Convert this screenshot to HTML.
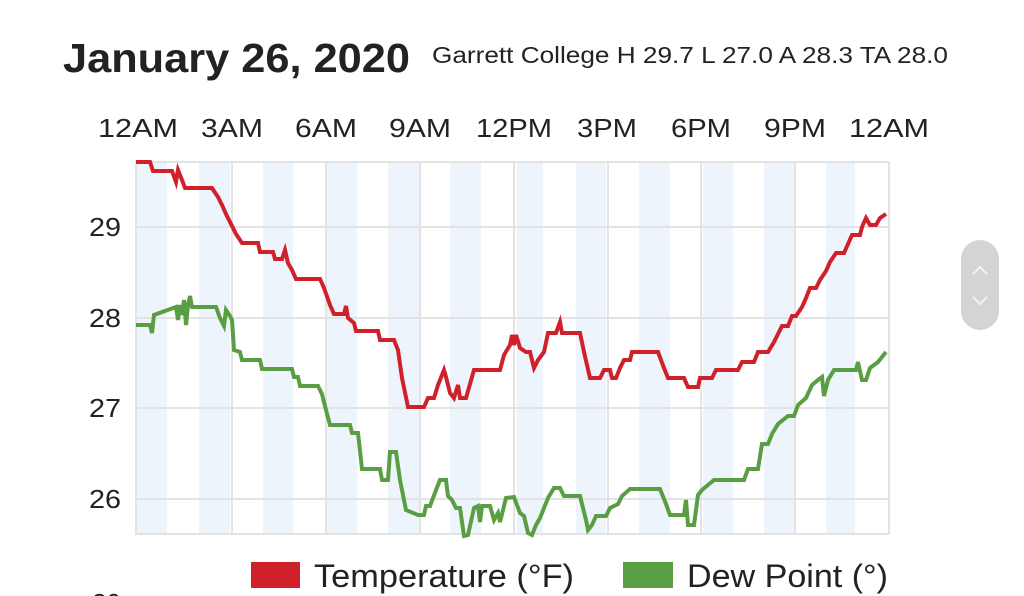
<!DOCTYPE html>
<html><head><meta charset="utf-8"><style>
html,body{margin:0;padding:0;background:#fff;width:1024px;height:596px;overflow:hidden}
svg{display:block}
text{font-family:"Liberation Sans",sans-serif;fill:#222}
</style></head><body>
<svg width="1024" height="596" viewBox="0 0 1024 596">
<text x="63" y="72" font-size="41" font-weight="bold" textLength="347" lengthAdjust="spacingAndGlyphs">January 26, 2020</text>
<text x="432" y="63" font-size="23" textLength="516" lengthAdjust="spacingAndGlyphs">Garrett College H 29.7 L 27.0 A 28.3 TA 28.0</text>
<g font-size="26" text-anchor="middle">
<text x="138" y="137" textLength="80" lengthAdjust="spacingAndGlyphs">12AM</text><text x="232" y="137" textLength="62" lengthAdjust="spacingAndGlyphs">3AM</text><text x="326" y="137" textLength="62" lengthAdjust="spacingAndGlyphs">6AM</text>
<text x="420" y="137" textLength="62" lengthAdjust="spacingAndGlyphs">9AM</text><text x="514" y="137" textLength="76" lengthAdjust="spacingAndGlyphs">12PM</text><text x="607" y="137" textLength="60" lengthAdjust="spacingAndGlyphs">3PM</text>
<text x="701" y="137" textLength="60" lengthAdjust="spacingAndGlyphs">6PM</text><text x="795" y="137" textLength="62" lengthAdjust="spacingAndGlyphs">9PM</text><text x="889" y="137" textLength="80" lengthAdjust="spacingAndGlyphs">12AM</text>
</g>
<g fill="#eef4fb">
<rect x="137" y="162" width="30" height="372"/><rect x="199" y="162" width="31" height="372"/>
<rect x="263" y="162" width="30" height="372"/><rect x="327" y="162" width="30" height="372"/>
<rect x="388" y="162" width="31" height="372"/><rect x="450" y="162" width="31" height="372"/>
<rect x="517" y="162" width="26" height="372"/><rect x="576" y="162" width="30" height="372"/>
<rect x="639" y="162" width="31" height="372"/><rect x="703" y="162" width="30" height="372"/>
<rect x="764" y="162" width="32" height="372"/><rect x="826" y="162" width="29" height="372"/>
</g>
<g stroke="#e3e3e3" stroke-width="2" fill="none">
<rect x="136" y="162" width="753" height="372"/>
<line x1="232" y1="162" x2="232" y2="534"/><line x1="326" y1="162" x2="326" y2="534"/>
<line x1="420" y1="162" x2="420" y2="534"/><line x1="514" y1="162" x2="514" y2="534"/>
<line x1="608" y1="162" x2="608" y2="534"/><line x1="701" y1="162" x2="701" y2="534"/>
<line x1="795" y1="162" x2="795" y2="534"/>
<line x1="136" y1="227" x2="889" y2="227"/><line x1="136" y1="318" x2="889" y2="318"/>
<line x1="136" y1="408" x2="889" y2="408"/><line x1="136" y1="499" x2="889" y2="499"/>
</g>
<g font-size="26" text-anchor="end">
<text x="121" y="236" textLength="32" lengthAdjust="spacingAndGlyphs">29</text><text x="121" y="327" textLength="32" lengthAdjust="spacingAndGlyphs">28</text><text x="121" y="417" textLength="32" lengthAdjust="spacingAndGlyphs">27</text><text x="121" y="508" textLength="32" lengthAdjust="spacingAndGlyphs">26</text>
</g>
<polyline fill="none" stroke="#d0212b" stroke-width="4" points="136,162 150,162 153,171 172,171 176,182 178,170 182,180 185,188 212,188 218,197 222,205 226,214 232,226 236,234 242,243 258,243 260,252 273,252 275,259 282,259 285,250 288,263 292,270 296,279 320,279 324,288 330,305 334,314 344,314 346,306 348,318 354,323 356,331 378,331 380,340 394,340 398,350 402,378 408,407 424,407 428,398 434,398 438,385 444,370 446,377 450,393 454,398 458,385 460,398 466,398 474,370 500,370 504,355 510,345 512,335 514,345 516,335 520,348 526,352 530,352 534,368 538,360 544,352 548,333 556,333 560,322 562,333 580,333 584,352 590,378 600,378 604,370 610,370 612,378 616,378 620,368 624,360 630,360 632,352 658,352 664,368 668,378 684,378 688,387 698,387 700,378 712,378 716,370 738,370 742,362 754,362 758,352 768,352 774,342 778,334 782,326 788,326 792,316 796,316 802,307 806,298 810,288 816,288 820,280 826,271 830,262 836,253 844,253 848,244 852,235 860,235 862,227 866,218 870,225 876,225 880,218 886,214"/>
<polyline fill="none" stroke="#5a9e44" stroke-width="4" points="136,325 150,325 152,333 154,315 176,307 178,320 180,305 182,315 184,300 186,325 188,305 190,296 192,307 216,307 220,318 224,326 226,310 230,316 232,320 234,350 240,352 242,360 260,360 262,369 292,369 294,377 298,377 300,386 318,386 322,394 326,410 330,425 350,425 352,433 358,433 362,469 380,469 382,480 388,480 390,452 396,452 400,480 406,510 418,515 424,515 426,506 430,506 436,490 440,480 446,480 448,496 452,500 456,508 460,508 464,536 468,535 474,508 478,506 480,522 482,506 490,506 494,520 498,513 500,522 506,498 514,497 520,513 524,516 528,533 532,535 536,525 540,518 548,498 554,488 560,488 564,496 580,496 586,520 588,530 592,525 596,516 606,516 610,508 618,504 622,496 630,489 660,489 666,504 670,515 684,515 686,500 688,525 694,525 698,495 702,490 714,480 744,480 748,469 758,469 762,444 768,444 772,434 778,424 788,416 794,416 798,405 806,398 812,385 818,380 822,377 824,396 828,380 834,370 856,370 858,362 862,380 866,380 870,368 878,362 886,352"/>
<rect x="251" y="562" width="49" height="26" fill="#d0212b"/>
<text x="314" y="587" font-size="32" textLength="260" lengthAdjust="spacingAndGlyphs">Temperature (°F)</text>
<rect x="623" y="562" width="50" height="26" fill="#5a9e44"/>
<text x="687" y="587" font-size="32" textLength="201" lengthAdjust="spacingAndGlyphs">Dew Point (°)</text>
<text x="121" y="612" font-size="26" text-anchor="end">30</text>
<rect x="961" y="240" width="38" height="90" rx="19" fill="#d4d4d4"/>
<polyline points="973,274 980,267 987,274" fill="none" stroke="#f2f2f2" stroke-width="2"/>
<polyline points="973,297 980,304 987,297" fill="none" stroke="#f2f2f2" stroke-width="2"/>
</svg>
</body></html>
